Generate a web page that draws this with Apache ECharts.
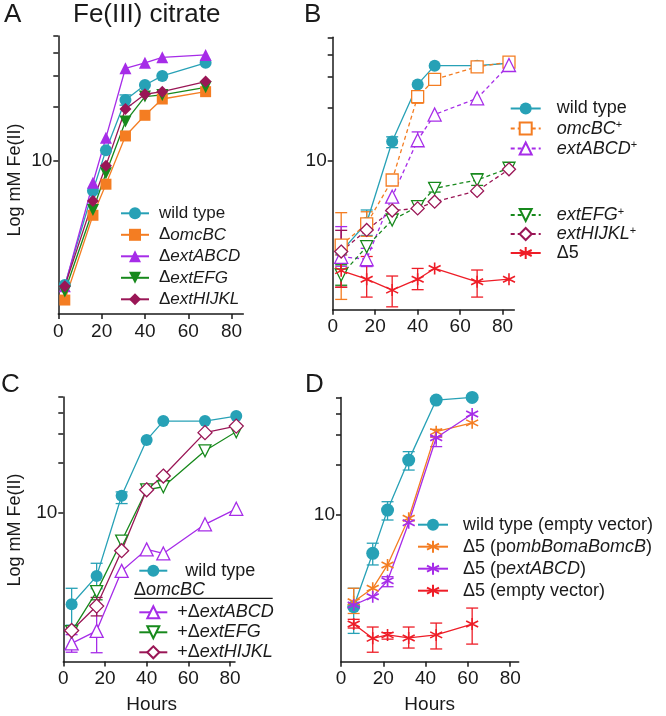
<!DOCTYPE html>
<html>
<head>
<meta charset="utf-8">
<script src="https://cdn.jsdelivr.net/npm/echarts@6/dist/echarts.min.js"></script>
<style>html,body{margin:0;padding:0;background:#fff}#c{width:666px;height:716px}</style>
</head>
<body>
<div id="c"></div>
<script>
// ---------- DATA ----------
const xTickValues = [0, 20, 40, 60, 80];
const yTickValues = [10, 20, 30, 40, 50];
const yLabelValues = [10];

// Panel A
const aTimes = [3, 16, 22, 31, 40, 48, 68];
const aWild = [1.99, 6.74, 11.4, 21.8, 26.5, 29.8, 35.3];
const aOmcBC = [1.64, 4.91, 7.34, 13.7, 17.9, 22.1, 24.3];
const aExtABCD = [1.96, 7.48, 13.4, 32.9, 35.3, 37.9, 39.1];
const aExtEFG = [1.83, 5.26, 8.45, 16.5, 22.8, 23.3, 25.7];
const aExtHIJKL = [1.96, 5.9, 9.33, 19.4, 23.5, 24.3, 27.7];
const aWildErr = [null, null, null, [20.4, 23.3], null, null, null];

// Panel B
const bTimes = [4, 16, 28, 40, 48, 68, 83];
const bWild = [3.03, 4.42, 12.8, 27.0, 34.5, 34.5, 35.6];
const bOmcBC = [3.3, 4.35, 7.73, 23.0, 28.8, 34.0, 36.1];
const bExtABCD = [2.83, 2.74, 6.21, 13.0, 18.2, 22.5, 34.8];
const bExtEFG = [2.23, 3.23, 4.58, 5.45, 6.93, 7.73, 9.01];
const bExtHIJKL = [3.03, 4.02, 5.18, 5.33, 5.82, 6.7, 8.89];
const bDelta5 = [2.36, 2.11, 1.83, 2.11, 2.43, 2.04, 2.11];
const bWildErr = [null, [3.74, 5.22], [11.8, 13.6], null, null, null, null];
const bOmcBCErr = [[1.62, 5.04], [3.7, 5.1], null, [21.1, 24.5], null, null, null];
const bExtABCDErr = [[2.5, 4.2], [2.49, 3.16], null, [12.0, 14.5], null, null, null];
const bExtEFGErr = [[1.95, 2.55], null, null, null, [6.6, 7.4], [7.2, 8.4], null];
const bExtHIJKLErr = [[1.9, 4.0], null, null, null, null, null, null];
const bDelta5Err = [[1.9, 2.9], [1.67, 2.84], [1.47, 2.2], [1.84, 2.43], null, [1.67, 2.38], null];

// Panel C
const cTimes = [4, 16, 28, 40, 48, 68, 83];
const cWild = [2.82, 4.17, 12.7, 27.5, 35.8, 35.8, 38.4];
const cExtABCD = [1.64, 1.95, 4.48, 6.04, 5.71, 8.55, 10.6];
const cExtEFG = [1.93, 3.36, 6.78, 13.8, 14.4, 23.7, 30.9];
const cExtHIJKL = [1.96, 2.75, 5.93, 13.8, 16.7, 30.5, 33.4];
const cWildErr = [[2.11, 3.52], [3.5, 4.98], [11.4, 13.4], null, null, null, null];
const cExtABCDErr = [[1.45, 1.85], [1.44, 2.72], null, null, null, null, null];
const cExtEFGErr = [null, [3.0, 3.6], null, null, null, null, null];
const cExtHIJKLErr = [null, [2.4, 3.1], null, null, null, null, null];

// Panel D
const dTimes = [6, 15, 22, 32, 45, 62];
const dWild = [2.85, 5.92, 10.7, 21.2, 48.2, 50];
const dPomb = [3.05, 3.67, 5.05, 9.56, 31.3, 35.3];
const dPext = [2.92, 3.27, 4.07, 9.0, 28.8, 39.8];
const dEmpty = [2.25, 1.85, 1.94, 1.86, 1.94, 2.25];
const dWildErr = [[1.98, 3.67], [5.05, 6.8], [9.34, 12.0], [18.5, 23.8], null, null];
const dPombErr = [[2.6, 3.67], null, null, null, [29.0, 32.3], null];
const dPextErr = [null, null, [3.75, 4.3], null, [25.5, 29.2], null];
const dEmptyErr = [[2.13, 2.4], [1.53, 2.16], [1.83, 2.0], [1.62, 2.16], [1.6, 2.28], [1.71, 2.8]];

// ---------- STYLE ----------
const FONT = "'Liberation Sans', Arial, sans-serif";
const INK = '#1a1a1a';
const CYAN = '#27a1b6', ORANGE = '#f47d22', PURPLE = '#a62ce8', GREEN = '#17891c', MAROON = '#9a1656', RED = '#ee1d27';
const ASTER = 'path://M10,0 L10,20 M1.34,5 L18.66,15 M1.34,15 L18.66,5';

const panels = [
  {left: 58.3, top: 35.9, width: 185, height: 278.1, ymin: 1.369, xmax: 85.4},
  {left: 332.7, top: 37.3, width: 181.6, height: 272.4, ymin: 1.416, xmax: 85.5},
  {left: 63.3, top: 397, width: 171.7, height: 264.5, ymin: 1.275, xmax: 82.4},
  {left: 341, top: 397.4, width: 177.7, height: 264.3, ymin: 1.344, xmax: 84}
];

const L = v => Math.log10(v);
const axisLineStyle = {color: INK, width: 1.5};

const grid = panels.map(p => ({left: p.left, top: p.top, width: p.width, height: p.height, containLabel: false}));
const xAxis = panels.map((p, i) => ({
  type: 'value', gridIndex: i, min: 0, max: p.xmax,
  axisLine: {show: true, lineStyle: axisLineStyle},
  axisTick: {show: true, length: 5, lineStyle: axisLineStyle, customValues: xTickValues},
  axisLabel: {customValues: xTickValues, fontSize: 19, fontFamily: FONT, color: INK, margin: 8},
  splitLine: {show: false}
}));
const yAxis = panels.map((p, i) => ({
  type: 'value', gridIndex: i, min: L(p.ymin), max: L(50),
  axisLine: {show: true, lineStyle: axisLineStyle},
  axisTick: {show: true, length: 5, lineStyle: axisLineStyle, customValues: yTickValues.map(L)},
  axisLabel: {customValues: yLabelValues.map(L), fontSize: 19, fontFamily: FONT, color: INK, margin: 6,
    formatter: v => String(Math.round(Math.pow(10, v)))},
  splitLine: {show: false}
}));

const series = [];
function addLine(id, g, times, vals, o) {
  series.push({
    type: 'line', name: id, xAxisIndex: g, yAxisIndex: g, z: 3, clip: false, animation: false,
    data: times.map((t, i) => [t, L(vals[i])]),
    symbol: o.symbol, symbolSize: o.size || 12, symbolRotate: o.rotate || 0,
    lineStyle: {color: o.color, width: 1.3, type: o.dash ? [4, 3] : 'solid'},
    itemStyle: {color: o.fill || o.color, borderColor: o.color, borderWidth: o.bw || 0},
    emphasis: {disabled: true}
  });
}
function addErr(g, times, errs, color, half) {
  const data = [];
  times.forEach((t, i) => { if (errs[i]) data.push([t, L(errs[i][0]), L(errs[i][1])]); });
  series.push({
    type: 'custom', xAxisIndex: g, yAxisIndex: g, z: 2, clip: false, animation: false, silent: true,
    data: data,
    renderItem: (params, api) => {
      const p1 = api.coord([api.value(0), api.value(1)]);
      const p2 = api.coord([api.value(0), api.value(2)]);
      const w = half || 6, st = {stroke: color, lineWidth: 1.3};
      return {type: 'group', children: [
        {type: 'line', shape: {x1: p1[0], y1: p1[1], x2: p2[0], y2: p2[1]}, style: st},
        {type: 'line', shape: {x1: p1[0] - w, y1: p1[1], x2: p1[0] + w, y2: p1[1]}, style: st},
        {type: 'line', shape: {x1: p2[0] - w, y1: p2[1], x2: p2[0] + w, y2: p2[1]}, style: st}
      ]};
    }
  });
}

// Panel A
addErr(0, aTimes, aWildErr, CYAN);
addLine('A_wt', 0, aTimes, aWild, {symbol: 'circle', color: CYAN, size: 12});
addLine('A_omc', 0, aTimes, aOmcBC, {symbol: 'rect', color: ORANGE, size: 11});
addLine('A_abcd', 0, aTimes, aExtABCD, {symbol: 'triangle', color: PURPLE, size: 12});
addLine('A_efg', 0, aTimes, aExtEFG, {symbol: 'triangle', rotate: 180, color: GREEN, size: 12});
addLine('A_hijkl', 0, aTimes, aExtHIJKL, {symbol: 'diamond', color: MAROON, size: 12});

// Panel B
addErr(1, bTimes, bWildErr, CYAN);
addErr(1, bTimes, bOmcBCErr, ORANGE);
addErr(1, bTimes, bExtABCDErr, PURPLE);
addErr(1, bTimes, bExtEFGErr, GREEN);
addErr(1, bTimes, bExtHIJKLErr, MAROON);
addErr(1, bTimes, bDelta5Err, RED);
addLine('B_wt', 1, bTimes, bWild, {symbol: 'circle', color: CYAN, size: 12});
addLine('B_omc', 1, bTimes, bOmcBC, {symbol: 'rect', color: ORANGE, fill: '#fff', bw: 1.3, dash: true, size: 12});
addLine('B_abcd', 1, bTimes, bExtABCD, {symbol: 'triangle', color: PURPLE, fill: '#fff', bw: 1.3, dash: true, size: 13});
addLine('B_efg', 1, bTimes, bExtEFG, {symbol: 'triangle', rotate: 180, color: GREEN, fill: '#fff', bw: 1.3, dash: true, size: 12});
addLine('B_hijkl', 1, bTimes, bExtHIJKL, {symbol: 'diamond', color: MAROON, fill: '#fff', bw: 1.3, dash: true, size: 13});
addLine('B_d5', 1, bTimes, bDelta5, {symbol: ASTER, color: RED, fill: 'none', bw: 1.6, size: 12});

// Panel C
addErr(2, cTimes, cWildErr, CYAN);
addErr(2, cTimes, cExtABCDErr, PURPLE);
addErr(2, cTimes, cExtEFGErr, GREEN);
addErr(2, cTimes, cExtHIJKLErr, MAROON);
addLine('C_wt', 2, cTimes, cWild, {symbol: 'circle', color: CYAN, size: 12});
addLine('C_abcd', 2, cTimes, cExtABCD, {symbol: 'triangle', color: PURPLE, fill: '#fff', bw: 1.3, size: 13});
addLine('C_efg', 2, cTimes, cExtEFG, {symbol: 'triangle', rotate: 180, color: GREEN, fill: '#fff', bw: 1.3, size: 12});
addLine('C_hijkl', 2, cTimes, cExtHIJKL, {symbol: 'diamond', color: MAROON, fill: '#fff', bw: 1.3, size: 14});

// Panel D
addErr(3, dTimes, dWildErr, CYAN);
addErr(3, dTimes, dPombErr, ORANGE);
addErr(3, dTimes, dPextErr, PURPLE);
addErr(3, dTimes, dEmptyErr, RED);
addLine('D_wt', 3, dTimes, dWild, {symbol: 'circle', color: CYAN, size: 13});
addLine('D_pomb', 3, dTimes, dPomb, {symbol: ASTER, color: ORANGE, fill: 'none', bw: 1.6, size: 12});
addLine('D_pext', 3, dTimes, dPext, {symbol: ASTER, color: PURPLE, fill: 'none', bw: 1.6, size: 12});
addLine('D_empty', 3, dTimes, dEmpty, {symbol: ASTER, color: RED, fill: 'none', bw: 1.6, size: 12});

// ---------- LEGENDS ----------
const legendText = {
  A_wt: 'wild type', A_omc: 'Δ{i|omcBC}', A_abcd: 'Δ{i|extABCD}', A_efg: 'Δ{i|extEFG}', A_hijkl: 'Δ{i|extHIJKL}',
  B_wt: 'wild type', B_omc: '{i|omcBC}{s|+}', B_abcd: '{i|extABCD}{s|+}',
  B_efg: '{i|extEFG}{s|+}', B_hijkl: '{i|extHIJKL}{s|+}', B_d5: 'Δ5',
  C_wt: 'wild type', C_abcd: '+Δ{i|extABCD}', C_efg: '+Δ{i|extEFG}', C_hijkl: '+Δ{i|extHIJKL}',
  D_wt: 'wild type (empty vector)', D_pomb: 'Δ5 (po{i|mbBomaBomcB})', D_pext: 'Δ5 (p{i|extABCD})', D_empty: 'Δ5 (empty vector)'
};
function legend(names, left, top, gap, pad, fontSize, itemWidth) {
  return {
    orient: 'vertical', left: left, top: top, itemGap: gap, itemWidth: itemWidth, itemHeight: 15,
    data: names, selectedMode: false, padding: 0,
    formatter: n => legendText[n],
    textStyle: {
      fontFamily: FONT, fontSize: fontSize, color: INK, lineHeight: 18, padding: [0, 0, 0, pad],
      rich: {
        i: {fontFamily: FONT, fontSize: fontSize, fontStyle: 'italic', color: INK, lineHeight: 18},
        s: {fontFamily: FONT, fontSize: 11, color: INK, lineHeight: 18, verticalAlign: 'top'}
      }
    }
  };
}
const legends = [
  legend(['A_wt', 'A_omc', 'A_abcd', 'A_efg', 'A_hijkl'], 120, 204.3, 3.5, 5, 17, 28),
  legend(['B_wt', 'B_omc', 'B_abcd'], 509.7, 99.5, 2, 11, 18, 30),
  legend(['B_efg', 'B_hijkl', 'B_d5'], 509.7, 206, 1, 11, 18, 30),
  legend(['C_wt'], 138.3, 561.7, 2, 13, 18, 28),
  legend(['C_abcd', 'C_efg', 'C_hijkl'], 138.3, 603.3, 2, 5, 18, 28),
  legend(['D_wt', 'D_pomb', 'D_pext', 'D_empty'], 417, 515.7, 4, 10, 18, 30)
];

// ---------- TEXT ----------
function txt(x, y, text, size, extra) {
  return Object.assign({type: 'text', x: x, y: y, silent: true,
    style: Object.assign({text: text, fontSize: size, fontFamily: FONT, fill: INK, align: 'left', verticalAlign: 'middle'}, (extra && extra.style) || {})},
    (extra && extra.el) || {});
}
const graphic = [
  txt(4, 15, 'A', 26),
  txt(73, 15, 'Fe(III) citrate', 26),
  txt(304, 15, 'B', 26),
  txt(1, 385, 'C', 26),
  txt(305, 385, 'D', 26),
  txt(15, 180, 'Log mM Fe(II)', 18, {style: {align: 'center'}, el: {rotation: Math.PI / 2}}),
  txt(15, 530, 'Log mM Fe(II)', 18, {style: {align: 'center'}, el: {rotation: Math.PI / 2}}),
  txt(151.7, 705, 'Hours', 19, {style: {align: 'center'}}),
  txt(429.7, 705, 'Hours', 19, {style: {align: 'center'}}),
  {type: 'text', x: 134, y: 590, silent: true, style: {
    text: 'Δ{i|omcBC}', fontSize: 18, fontFamily: FONT, fill: INK, align: 'left', verticalAlign: 'middle',
    rich: {i: {fontSize: 18, fontFamily: FONT, fontStyle: 'italic', fill: INK}}}},
  {type: 'line', silent: true, shape: {x1: 134, y1: 598.3, x2: 272.7, y2: 598.3}, style: {stroke: INK, lineWidth: 1.3}}
];

const chart = echarts.init(document.getElementById('c'), null, {renderer: 'canvas'});
chart.setOption({
  animation: false,
  backgroundColor: '#fff',
  grid: grid, xAxis: xAxis, yAxis: yAxis,
  legend: legends,
  series: series,
  graphic: graphic
});
</script>
</body>
</html>
